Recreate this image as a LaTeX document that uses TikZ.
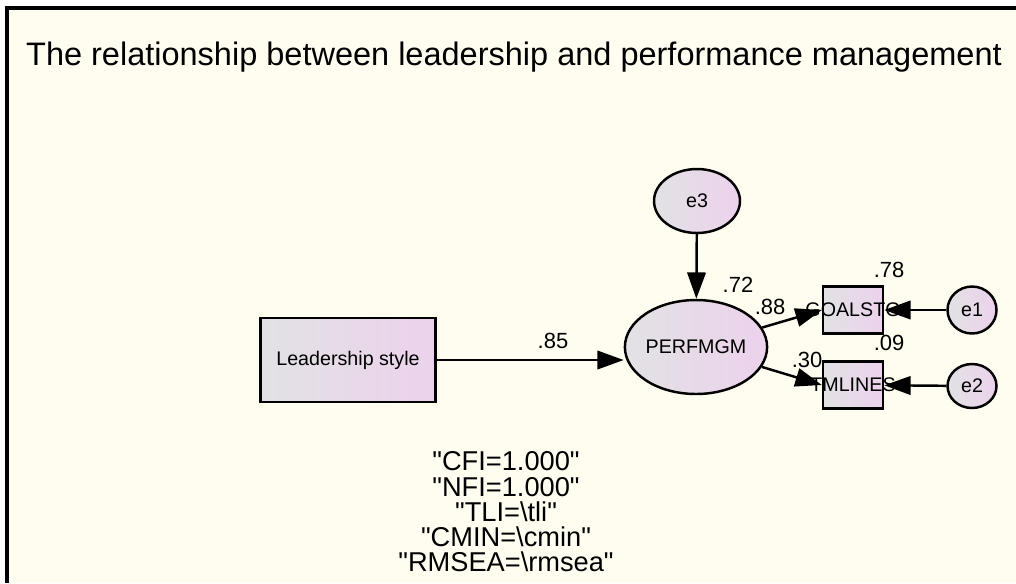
\documentclass[tikz,border=0pt]{standalone}
\usepackage{fontspec}
\setmainfont{Liberation Sans}
\usepackage{xcolor}
\usetikzlibrary{shapes,arrows.meta,positioning,calc}

\definecolor{paper}{RGB}{255,253,240}
\definecolor{boxleft}{RGB}{226,226,228}
\definecolor{boxright}{RGB}{236,210,236}

\tikzset{
    obs/.style={draw, line width=1.4pt, rectangle, left color=boxleft, right color=boxright, inner sep=0pt},
    lat/.style={draw, line width=1.4pt, ellipse, left color=boxleft, right color=boxright, inner sep=0pt},
    path/.style={line width=1.4pt, -{Triangle[length=15pt,width=10.5pt]}},
    est/.style={font=\fontsize{12.5}{14}\selectfont},
    vname/.style={font=\fontsize{11.2}{13}\selectfont}
}

\begin{document}
\begin{tikzpicture}[x=0.02cm, y=-0.02cm]
    \useasboundingbox (0,0) rectangle (1016,583);
    \fill[white] (0,0) rectangle (1016,583);
    \fill[paper] (7,8) rectangle (1016,583);
    \draw[line width=1.8pt] (7,583) -- (7,8) -- (1016,8);

    \node (title) at (514,57) {\fontsize{18.5}{22}\selectfont The relationship between leadership and performance management};

    % variables
    \node[obs, vname, minimum width=3.5cm, minimum height=1.68cm] (lead) at (348,360) {Leadership style};
    \node[lat, vname, minimum width=2.36cm, minimum height=1.88cm] (perf) at (696,347) {PERFMGM};
    \node[lat, vname, minimum width=1.72cm, minimum height=1.28cm] (e3) at (697,201) {e3};
    \node[obs, minimum width=1.2cm, minimum height=0.94cm, label={[vname]center:GOALSTG}] (goal) at (853,310) {};
    \node[obs, minimum width=1.2cm, minimum height=0.94cm, label={[vname]center:TMLINES}] (tml) at (853,385) {};
    \node[lat, vname, minimum width=0.98cm, minimum height=0.94cm] (e1) at (972,310) {e1};
    \node[lat, vname, minimum width=0.98cm, minimum height=0.88cm] (e2) at (972,386) {e2};

    % paths
    \draw[path] (lead.east) -- (lead.east -| perf.west);
    \draw[path] (e3) -- (perf);
    \draw[path] (perf) -- (goal.west);
    \draw[path] (perf) -- (tml.west);
    \draw[path] (e1) -- (goal);
    \draw[path] (e2) -- (tml);

    % estimates
    \node[est] (w85) at (553,341) {.85};
    \node[est] (r72) at (738,285) {.72};
    \node[est] (w88) at (770,307) {.88};
    \node[est] (r78) at (889,270) {.78};
    \node[est] (r09) at (889,343) {.09};
    \node[est] (w30) at (807,360) {.30};

    \node[align=center, font=\fontsize{15.5}{14.4}\selectfont] (fit) at (506,512) {\textquotedbl CFI=1.000\textquotedbl\\\textquotedbl NFI=1.000\textquotedbl\\\textquotedbl TLI=\textbackslash tli\textquotedbl\\\textquotedbl CMIN=\textbackslash cmin\textquotedbl\\\textquotedbl RMSEA=\textbackslash rmsea\textquotedbl};
\end{tikzpicture}
\end{document}
